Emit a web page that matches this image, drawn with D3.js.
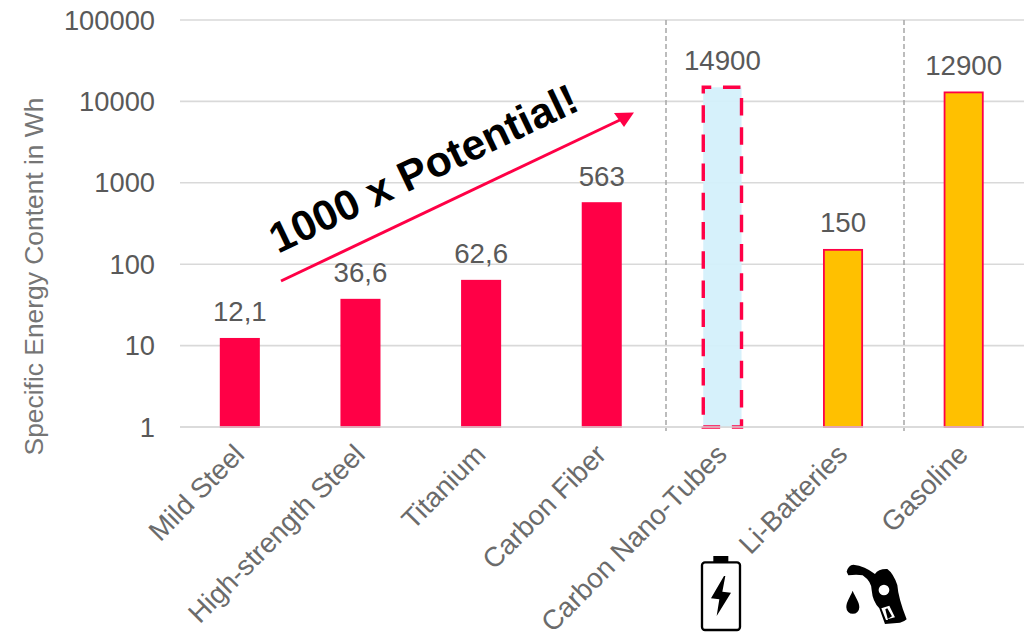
<!DOCTYPE html>
<html><head><meta charset="utf-8">
<script src="https://cdn.jsdelivr.net/npm/d3@7/dist/d3.min.js"></script>
<style>html,body{margin:0;padding:0;background:#fff}svg{display:block}text{font-family:"Liberation Sans",Arial,sans-serif}</style>
</head><body><svg id="c" width="1025" height="639"></svg>
<script>
const categories=["Mild Steel","High-strength Steel","Titanium","Carbon Fiber","Carbon Nano-Tubes","Li-Batteries","Gasoline"];
const values=[12.1,36.6,62.6,563,14900,150,12900];
const valueLabels=["12,1","36,6","62,6","563","14900","150","12900"];
const kinds=["solid","solid","solid","solid","dashed","outlined","outlined"];
const yTicks=[1,10,100,1000,10000,100000];
const yTitle="Specific Energy Content in Wh";
const annotation="1000 x Potential!";

const svg=d3.select("#c");
const y=d3.scaleLog().domain([1,100000]).range([427,20]);
const x=d3.scaleBand().domain(categories).range([179.5,1024]).paddingInner(0.683).paddingOuter(0.3415);
const RED="#ff0046",GREY="#595959";

svg.append("g").selectAll("line").data(yTicks).join("line")
  .attr("x1",180).attr("x2",1024).attr("y1",d=>y(d)).attr("y2",d=>y(d))
  .attr("stroke","#d9d9d9").attr("stroke-width",1.6);

svg.append("g").selectAll("text").data(yTicks).join("text")
  .attr("x",155).attr("y",d=>y(d)+9.5).attr("text-anchor","end")
  .attr("font-size",27.3).attr("fill",GREY).text(d=>d);

svg.append("text").attr("transform","translate(43,276.5) rotate(-90)").attr("text-anchor","middle")
  .attr("font-size",26.4).attr("fill","#757575").text(yTitle);

// separators
svg.append("g").selectAll("line").data([666,904]).join("line")
  .attr("x1",d=>d).attr("x2",d=>d).attr("y1",20).attr("y2",431)
  .attr("stroke","#a6a6a6").attr("stroke-width",1.5).attr("stroke-dasharray","5 3");

const data=categories.map((c,i)=>({c,v:values[i],l:valueLabels[i],k:kinds[i]}));
svg.append("g").selectAll("rect").data(data).join("rect")
  .attr("x",d=>x(d.c)).attr("width",x.bandwidth())
  .attr("y",d=>y(d.v)).attr("height",d=>y(1)-y(d.v))
  .attr("fill",d=>d.k==="solid"?RED:d.k==="dashed"?"#d3f0fb":"#ffc000")
  .attr("fill-opacity",d=>d.k==="dashed"?0.93:1)
  .attr("stroke",RED)
  .attr("stroke-width",d=>d.k==="dashed"?3.4:1.8)
  .attr("stroke-dasharray",d=>d.k==="dashed"?"17.5 11.7":null)
  .attr("stroke-dashoffset",d=>d.k==="dashed"?9.5:null);

// baseline sits above the bars
svg.append("line").attr("x1",180).attr("x2",1024).attr("y1",y(1)).attr("y2",y(1))
  .attr("stroke","#d9d9d9").attr("stroke-width",1.6);

svg.append("g").selectAll("text").data(data).join("text")
  .attr("x",d=>x(d.c)+x.bandwidth()/2).attr("y",d=>y(d.v)-17.5).attr("text-anchor","middle")
  .attr("font-size",27.7).attr("fill",GREY).text(d=>d.l);

svg.append("g").selectAll("text").data(categories).join("text")
  .attr("transform",d=>`translate(${x(d)+x.bandwidth()/2+6},456) rotate(-45.3)`)
  .attr("text-anchor","end").attr("font-size",27.7).attr("fill","#6b6b6b").text(d=>d);

// annotation arrow
svg.append("line").attr("x1",281).attr("y1",281).attr("x2",622).attr("y2",119)
  .attr("stroke",RED).attr("stroke-width",3);
svg.append("path").attr("d","M634,112.5L614,113L624,127Z").attr("fill",RED);
svg.append("text").attr("transform","translate(278,254) rotate(-25.5)")
  .attr("font-size",42.6).attr("font-weight","bold").attr("fill","#000").text(annotation);

// battery icon
const b=svg.append("g").attr("transform","translate(680,540) scale(0.3333)");
b.append("rect").attr("x",66).attr("y",67).attr("width",114).attr("height",203).attr("rx",9)
  .attr("fill","#fff").attr("stroke","#000").attr("stroke-width",7);
b.append("rect").attr("x",100).attr("y",48).attr("width",45).attr("height",18).attr("fill","#000");
b.append("path").attr("d","M132,108L93,175L118,178L110,228L153,158L127,155L136,108Z").attr("fill","#000");
// fuel icon
const p=svg.append("g").attr("transform","translate(680,540) scale(0.3333)");
p.append("path").attr("d","M500,95Q505,75 520,74Q555,78 585,102Q595,86 622,87Q640,100 652,135Q655,175 680,238Q672,246 660,248L615,252L598,205Q578,185 575,150Q575,125 548,106Q530,102 505,106Z").attr("fill","#000");
p.append("circle").attr("cx",612).attr("cy",150).attr("r",16).attr("fill","#fff");
p.append("path").attr("d","M604,205L628,197L645,232L622,238L636,229L622,205L616,208L624,240L618,240Z").attr("fill","#fff");
p.append("path").attr("d","M518,152C510,172 499,185 499,202A19.5,19.5 0 0 0 538,202C538,185 526,172 518,152Z").attr("fill","#000");
</script></body></html>
